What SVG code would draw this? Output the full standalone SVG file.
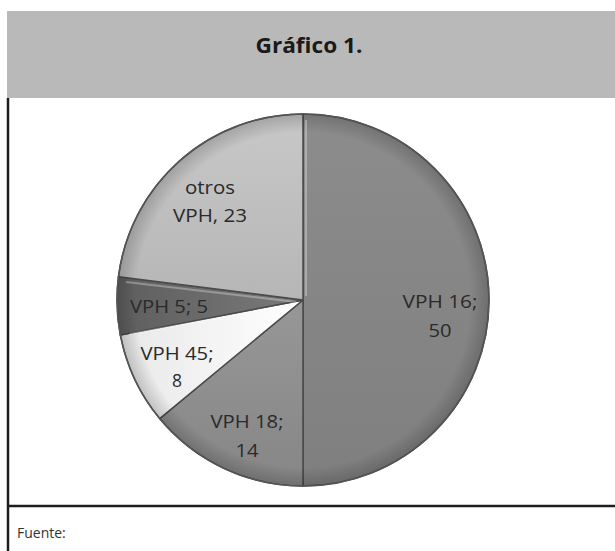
<svg xmlns="http://www.w3.org/2000/svg" width="615" height="551" viewBox="0 0 615 551">
<defs>
<style>
.lbl{font-family:"Open Sans","Liberation Sans",sans-serif;font-size:17.5px;fill:#2a2a2a;text-anchor:middle}
.sl{stroke:#4a4a4a;stroke-width:1.5;stroke-linejoin:round}
.hl{fill:none;stroke:#ffffff;stroke-opacity:0.3;stroke-width:2}
</style>
<radialGradient id="shade" cx="303" cy="300" r="186" gradientUnits="userSpaceOnUse">
<stop offset="0.9" stop-color="#000" stop-opacity="0"/>
<stop offset="1" stop-color="#000" stop-opacity="0.18"/>
</radialGradient>
<linearGradient id="g16" x1="0" y1="0" x2="0" y2="1">
<stop offset="0" stop-color="#8c8c8c"/><stop offset="1" stop-color="#7f7f7f"/>
</linearGradient>
<linearGradient id="g18" x1="0" y1="0" x2="0" y2="1">
<stop offset="0" stop-color="#979797"/><stop offset="1" stop-color="#868686"/>
</linearGradient>
<linearGradient id="g45" x1="0" y1="0" x2="1" y2="0">
<stop offset="0" stop-color="#e8e8e8"/><stop offset="1" stop-color="#ffffff"/>
</linearGradient>
<linearGradient id="g5" x1="0" y1="0" x2="1" y2="0">
<stop offset="0" stop-color="#5e5e5e"/><stop offset="1" stop-color="#7a7a7a"/>
</linearGradient>
<linearGradient id="gO" x1="0" y1="0" x2="0" y2="1">
<stop offset="0" stop-color="#c8c8c8"/><stop offset="1" stop-color="#b6b6b6"/>
</linearGradient>
</defs>
<rect width="615" height="551" fill="#fff"/>
<g id="header">
<rect x="7" y="11" width="608" height="87" fill="#b9b9b9"/>
<text x="309" y="53" font-family="'Open Sans','Liberation Sans',sans-serif" font-weight="bold" font-size="22" fill="#1a1a1a" text-anchor="middle" textLength="107" lengthAdjust="spacingAndGlyphs">Gráfico 1.</text>
</g>
<g id="frame" stroke="#1e1e1e" stroke-width="2.5">
<line x1="8" y1="98" x2="8" y2="551"/>
<line x1="8" y1="506" x2="615" y2="506"/>
</g>
<g id="pie">
<g id="vph16">
<path class="sl" d="M303,300 L303,114 A186,186 0 0 1 303,486 Z" fill="url(#g16)"/>
</g>
<g id="vph18">
<path class="sl" d="M303,300 L303,486 A186,186 0 0 1 159.7,418.6 Z" fill="url(#g18)"/>
</g>
<g id="vph45">
<path class="sl" d="M303,300 L159.7,418.6 A186,186 0 0 1 120.3,334.9 Z" fill="url(#g45)"/>
</g>
<g id="vph5">
<path class="sl" d="M303,300 L120.3,334.9 A186,186 0 0 1 118.5,276.7 Z" fill="url(#g5)"/>
</g>
<g id="otros">
<path class="sl" d="M303,300 L118.5,276.7 A186,186 0 0 1 303,114 Z" fill="url(#gO)"/>
</g>
<circle cx="303" cy="300" r="186" fill="url(#shade)"/>
<path class="hl" d="M296,302 L126,282 M296,304 L130,334 M306,296 L306,120"/>
<circle cx="303" cy="300" r="186" fill="none" stroke="#555" stroke-width="1.5"/>
</g>
<g id="labels">
<text class="lbl" x="210" y="194" textLength="50" lengthAdjust="spacingAndGlyphs">otros</text>
<text class="lbl" x="210" y="222" textLength="74" lengthAdjust="spacingAndGlyphs">VPH, 23</text>
<text class="lbl" x="169" y="313" textLength="78" lengthAdjust="spacingAndGlyphs">VPH 5; 5</text>
<text class="lbl" x="177" y="360" textLength="73" lengthAdjust="spacingAndGlyphs">VPH 45;</text>
<text class="lbl" x="177" y="387">8</text>
<text class="lbl" x="247" y="428" textLength="73" lengthAdjust="spacingAndGlyphs">VPH 18;</text>
<text class="lbl" x="247" y="457" textLength="23" lengthAdjust="spacingAndGlyphs">14</text>
<text class="lbl" x="440" y="308" textLength="75" lengthAdjust="spacingAndGlyphs">VPH 16;</text>
<text class="lbl" x="440" y="337" textLength="23" lengthAdjust="spacingAndGlyphs">50</text>
</g>
<text x="17" y="538" font-family="'Open Sans','Liberation Sans',sans-serif" font-size="14" fill="#333">Fuente:</text>
</svg>
